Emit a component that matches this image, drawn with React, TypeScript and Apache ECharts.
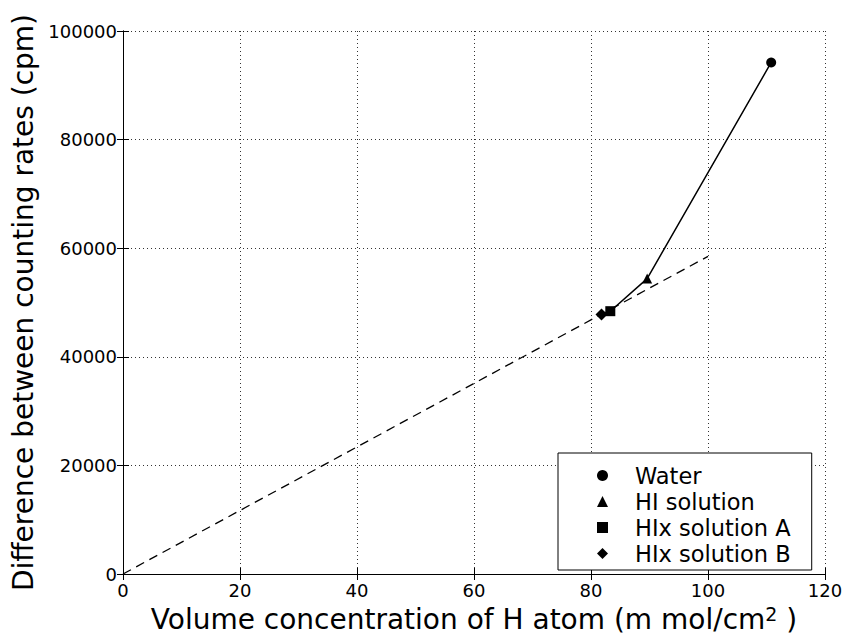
import React, { useEffect, useRef } from "react";
import * as echarts from "echarts";

const xTicks = [0, 20, 40, 60, 80, 100, 120];
const yTicks = [0, 20000, 40000, 60000, 80000, 100000];

const seriesNames = ["Water", "HI solution", "HIx solution A", "HIx solution B"];
const seriesSymbols = ["circle", "triangle", "rect", "diamond"];
const seriesSizes = [10, 10, 10, 12];
const seriesX = [110.8, 89.6, 83.3, 81.8];
const seriesY = [94200, 54400, 48400, 47800];

// solid connecting line (ordered by x)
const solidX = [81.8, 83.3, 89.6, 110.8];
const solidY = [47800, 48400, 54400, 94200];

// dashed reference line
const dashX = [0, 100];
const dashY = [0, 58500];

const FONT = "DejaVu Sans";

export default function App() {
  const ref = useRef<HTMLDivElement>(null);
  useEffect(() => {
    if (!ref.current) return;
    const chart = echarts.init(ref.current, undefined, { renderer: "svg" });
    const axisCommon = {
      type: "value" as const,
      axisLine: { show: true, lineStyle: { color: "#000", width: 1 } },
      axisTick: { show: true, inside: true, length: 6, lineStyle: { color: "#000" } },
    };
    chart.setOption({
      animation: false,
      backgroundColor: "#fff",
      grid: {
        left: 123,
        right: 21,
        top: 31,
        bottom: 61,
        show: false,
        containLabel: false,
        outerBoundsMode: "none",
      },
      legend: {
        orient: "vertical",
        left: 558,
        top: 453,
        data: seriesNames,
        itemWidth: 11,
        itemHeight: 11,
        itemGap: 3,
        padding: [11, 21, 5, 39],
        borderColor: "#000",
        borderWidth: 1,
        borderRadius: 0,
        backgroundColor: "#fff",
        selectedMode: false,
        formatter: "{t|{name}}",
        textStyle: {
          fontFamily: FONT,
          fontSize: 22.5,
          color: "#000",
          rich: {
            t: { fontFamily: FONT, fontSize: 22.5, color: "#000", padding: [0, 0, 0, 22] },
          },
        },
        itemStyle: { color: "#000" },
      },
      xAxis: [
        {
          ...axisCommon,
          min: 0,
          max: 120,
          interval: 20,
          position: "bottom",
          name: "{m|Volume concentration of H atom (m mol/cm}{sup|2}{m| )}",
          nameLocation: "middle",
          nameGap: 30,
          nameTextStyle: {
            fontFamily: FONT,
            fontSize: 28,
            color: "#000",
            lineHeight: 30,
            rich: {
              m: { fontFamily: FONT, fontSize: 28, color: "#000", lineHeight: 30 },
              sup: { fontFamily: FONT, fontSize: 19, color: "#000", lineHeight: 19, verticalAlign: "top" },
            },
          },
          axisLabel: {
            fontFamily: FONT,
            fontSize: 18,
            color: "#000",
            margin: 7,
            formatter: (v: number) => (xTicks.includes(v) ? String(v) : ""),
          },
          splitLine: { show: true, lineStyle: { color: "#333", type: [1, 3], width: 1 } },
        },
        {
          ...axisCommon,
          min: 0,
          max: 120,
          interval: 20,
          position: "top",
          axisLabel: { show: false },
          splitLine: { show: false },
        },
      ],
      yAxis: [
        {
          ...axisCommon,
          min: 0,
          max: 100000,
          interval: 20000,
          position: "left",
          name: "Difference between counting rates (cpm)",
          nameLocation: "middle",
          nameGap: 79,
          nameTextStyle: { fontFamily: FONT, fontSize: 28, color: "#000" },
          axisLabel: {
            fontFamily: FONT,
            fontSize: 18,
            color: "#000",
            margin: 6,
            formatter: (v: number) => (yTicks.includes(v) ? String(v) : ""),
          },
          splitLine: { show: true, lineStyle: { color: "#333", type: [1, 3], width: 1 } },
        },
        {
          ...axisCommon,
          min: 0,
          max: 100000,
          interval: 20000,
          position: "right",
          axisLabel: { show: false },
          splitLine: { show: false },
        },
      ],
      series: [
        {
          type: "line",
          name: "dashed",
          data: dashX.map((x, i) => [x, dashY[i]]),
          showSymbol: false,
          symbol: "none",
          lineStyle: { color: "#000", width: 1.3, type: [9, 6] },
          z: 2,
          silent: true,
        },
        {
          type: "line",
          name: "solid",
          data: solidX.map((x, i) => [x, solidY[i]]),
          showSymbol: false,
          symbol: "none",
          lineStyle: { color: "#000", width: 1.5 },
          z: 3,
          silent: true,
        },
        ...seriesNames.map((n, i) => ({
          type: "scatter",
          name: n,
          symbol: seriesSymbols[i],
          symbolSize: seriesSizes[i],
          data: [[seriesX[i], seriesY[i]]],
          itemStyle: { color: "#000", opacity: 1 },
          z: 4,
        })),
      ],
    });
    return () => chart.dispose();
  }, []);
  return (
    <div
      ref={ref}
      style={{ position: "absolute", left: 0, top: 0, width: 846, height: 635 }}
    />
  );
}
